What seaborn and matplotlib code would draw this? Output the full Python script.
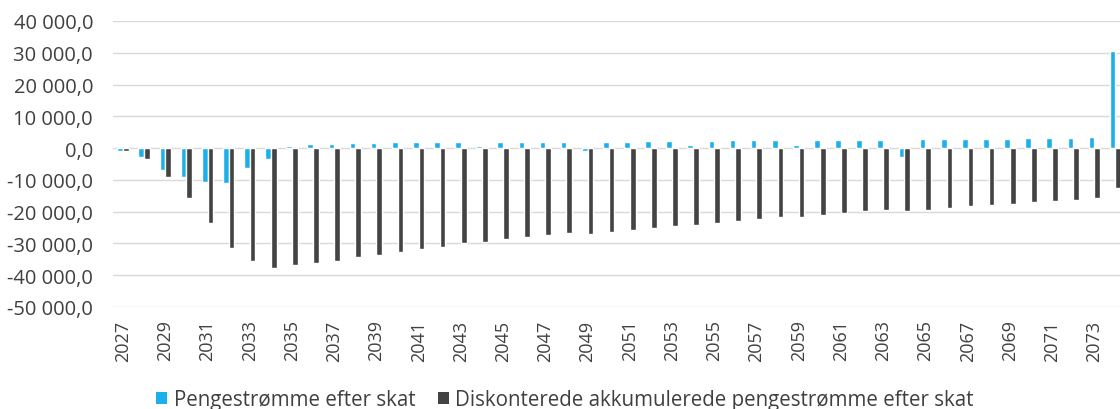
import numpy as np
import pandas as pd
import matplotlib
matplotlib.use("Agg")
import matplotlib.pyplot as plt
from matplotlib.ticker import FuncFormatter, MultipleLocator
from matplotlib.patches import Patch
import seaborn as sns

years = list(range(2027, 2075))

cash_flow = [
    -800, -2900, -7000, -9200, -10700, -11000, -6400, -3300, 800, 1400,
    1400, 1700, 1700, 1800, 1800, 1900, 1800, 700, 2000, 1800,
    1800, 1900, -1000, 2000, 2000, 2100, 2100, 1100, 2300, 2400,
    2400, 2500, 1100, 2600, 2700, 2700, 2700, -2700, 2800, 2900,
    2900, 3000, 3000, 3200, 3200, 3300, 3400, 30500,
]

discounted_cum = [
    -800, -3300, -9000, -15800, -23700, -31300, -35500, -37600, -36900, -36200,
    -35400, -34400, -33600, -32700, -31800, -31000, -30000, -29700, -28700, -28000,
    -27400, -26700, -27000, -26300, -25700, -25000, -24400, -24200, -23600, -22800,
    -22400, -21800, -21600, -21000, -20400, -19900, -19400, -19900, -19400, -18800,
    -18300, -17800, -17500, -17000, -16500, -16200, -15800, -12400,
]

series_names = [
    "Pengestrømme efter skat",
    "Diskonterede akkumulerede pengestrømme efter skat",
]
colors = ["#1cb0ea", "#434343"]

df = pd.DataFrame({
    "year": [str(y) for y in years] * 2,
    "series": [series_names[0]] * len(years) + [series_names[1]] * len(years),
    "value": cash_flow + discounted_cum,
})

sns.set_theme(style="white")
plt.rcParams["font.family"] = ["Open Sans", "DejaVu Sans"]

W, H = 1120, 410
fig = plt.figure(figsize=(W / 100, H / 100), dpi=100)
left, right, top, bottom = 112.5, 1126, 22, 308
ax = fig.add_axes([left / W, 1 - bottom / H, (right - left) / W, (bottom - top) / H])

sns.barplot(
    data=df, x="year", y="value", hue="series", palette=colors,
    order=[str(y) for y in years], hue_order=series_names,
    width=0.54, gap=0, errorbar=None, legend=False, ax=ax, saturation=1,
)

ax.set_ylim(-50000, 40000)
ax.set_xlim(-0.5, len(years) - 0.5)
ax.yaxis.set_major_locator(MultipleLocator(10000))


def fmt(v, pos):
    s = f"{abs(v):,.1f}".replace(",", " ").replace(".", ",")
    return ("-" if v < 0 else "") + s


ax.yaxis.set_major_formatter(FuncFormatter(fmt))
ax.grid(axis="y", color="#d9d9d9", linewidth=1.0)
ax.set_axisbelow(True)
for s in ax.spines.values():
    s.set_visible(False)

ax.set_xticks(range(0, len(years), 2))
ax.set_xticklabels([str(y) for y in years[::2]], rotation=90)
ax.tick_params(axis="x", length=0, pad=9, labelsize=13, colors="#404040")
ax.tick_params(axis="y", length=0, pad=14, labelsize=14.5, colors="#404040")
ax.set_xlabel("")
ax.set_ylabel("")

handles = [Patch(facecolor=c, edgecolor="none") for c in colors]
fig.legend(
    handles, series_names, loc="center", bbox_to_anchor=(565 / W, 1 - 401 / H),
    ncol=2, frameon=False, fontsize=14.8, handlelength=0.55, handleheight=0.55,
    handletextpad=0.3, columnspacing=1.1, labelcolor="#404040",
)

fig.savefig("out.png", dpi=100)
